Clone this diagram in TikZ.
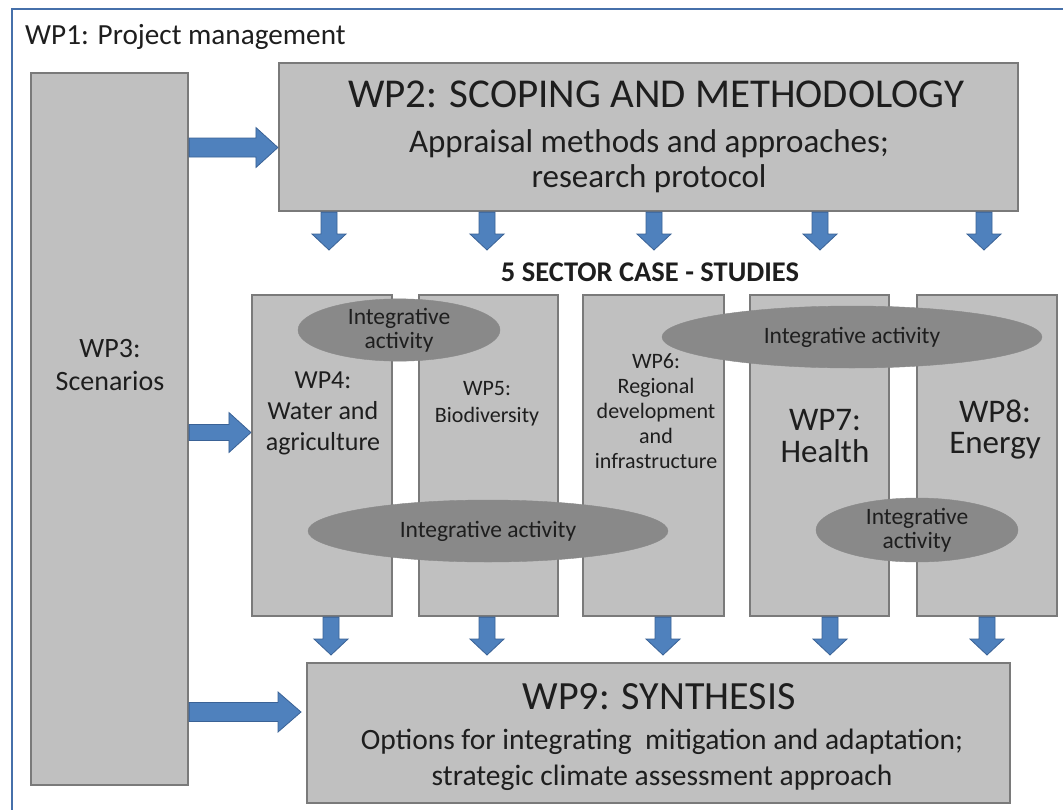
\documentclass[tikz,border=0pt]{standalone}
\usepackage{fontspec}
\setmainfont{Carlito}
\usetikzlibrary{shapes.geometric,calc}
\definecolor{boxgray}{RGB}{192,192,192}
\definecolor{boxedge}{RGB}{122,122,122}
\definecolor{ellgray}{RGB}{137,137,137}
\definecolor{txt}{RGB}{30,30,30}
\definecolor{arrfill}{RGB}{79,129,189}
\definecolor{arredge}{RGB}{58,98,150}
\definecolor{frameblue}{RGB}{70,112,170}
\newcommand\fsz[2]{\fontsize{#1}{#2}\selectfont}
\newcommand\rtarrow[5]{%
  \draw[blockarrow] let \p1=(#1), \p2=(#2) in
    (\x1,\y1+#3pt) -- (\x2-#5pt,\y1+#3pt) -- (\x2-#5pt,\y1+#4pt) -- (\x2,\y1)
    -- (\x2-#5pt,\y1-#4pt) -- (\x2-#5pt,\y1-#3pt) -- (\x1,\y1-#3pt) -- cycle;}
\newcommand\dnarrow[2]{%
  \draw[blockarrow] let \p1=(#1), \p2=(#2) in
    (\x1-8pt,\y1) -- (\x1-8pt,\y2+16pt) -- (\x1-17pt,\y2+16pt) -- (\x1,\y2)
    -- (\x1+17pt,\y2+16pt) -- (\x1+8pt,\y2+16pt) -- (\x1+8pt,\y1) -- cycle;}
\begin{document}
\begin{tikzpicture}[x=1pt,y=-1pt,
  box/.style 2 args={draw=boxedge,fill=boxgray,line width=2.2pt,inner sep=0pt,
    minimum width=#1pt,minimum height=#2pt},
  ell/.style={ellipse,fill=ellgray,draw=ellgray,text=txt,inner sep=0pt,align=center,
    font=\fsz{23.5}{24}},
  txtn/.style={text=txt,inner sep=0pt,anchor=base,align=center},
  blockarrow/.style={fill=arrfill,draw=arredge,line width=0.8pt,line join=miter}]
\useasboundingbox (0,0) rectangle (1063,809);
\clip (0,0) rectangle (1063,809);
\fill[white] (0,0) rectangle (1063,809);
% WP1 frame
\draw[frameblue,line width=2.5pt] (12,9) rectangle (1090,840);
\node[txtn,anchor=base west,font=\fsz{29.2}{34}] (wp1t) at (25,44) {WP1: Project management};
% boxes
\node[box={157}{712}] (wp3) at (109.5,429) {};
\node[box={739}{148}] (wp2) at (648.5,137) {};
\node[box={140}{321}] (wp4) at (322,455.5) {};
\node[box={139}{321}] (wp5) at (488.5,455.5) {};
\node[box={141}{321}] (wp6) at (653.5,455.5) {};
\node[box={139}{321}] (wp7) at (819.5,455.5) {};
\node[box={140}{321}] (wp8) at (987,455.5) {};
\node[box={703}{140}] (wp9) at (658.5,733) {};
% arrow tips
\coordinate (t1) at (329,250);
\coordinate (t2) at (487,250);
\coordinate (t3) at (654,250);
\coordinate (t4) at (820,250);
\coordinate (t5) at (984,250);
\coordinate (b1) at (331,655);
\coordinate (b2) at (487,655);
\coordinate (b3) at (663,655);
\coordinate (b4) at (830,655);
\coordinate (b5) at (987,655);
\coordinate (w9tip) at (301,712);
% arrows
\rtarrow{wp3.east |- 0,147.5}{wp2.west |- 0,147.5}{9.5}{20}{22}
\rtarrow{wp3.east |- 0,432.5}{wp4.west |- 0,432.5}{8}{20}{22}
\rtarrow{wp3.east |- w9tip}{w9tip}{9.5}{20}{23}
\dnarrow{wp2.south -| t1}{t1}
\dnarrow{wp2.south -| t2}{t2}
\dnarrow{wp2.south -| t3}{t3}
\dnarrow{wp2.south -| t4}{t4}
\dnarrow{wp2.south -| t5}{t5}
\dnarrow{wp4.south -| b1}{b1}
\dnarrow{wp5.south -| b2}{b2}
\dnarrow{wp6.south -| b3}{b3}
\dnarrow{wp7.south -| b4}{b4}
\dnarrow{wp8.south -| b5}{b5}
% ellipses
\node[ell,minimum width=202pt,minimum height=60pt] (e1) at (399,330) {Integrative\\activity};
\node[ell,minimum width=380pt,minimum height=62pt] (e2) at (852,337) {Integrative activity};
\node[ell,minimum width=360pt,minimum height=62pt] (e3) at (488,531) {Integrative activity};
\node[ell,minimum width=202pt,minimum height=64pt] (e4) at (917,530) {Integrative\\activity};
% texts (base = baseline of last line)
\node[txtn,font=\fsz{41}{48}] (wp2a) at (656,107) {WP2: SCOPING AND METHODOLOGY};
\node[txtn,font=\fsz{33}{35}] (wp2b) at (649,187) {Appraisal methods and approaches;\\research protocol};
\node[txtn,font=\bfseries\fsz{28.5}{34}] (sec) at (650,281) {5 SECTOR CASE - STUDIES};
\node[txtn,font=\fsz{28}{33}] (wp3t) at (110,390) {WP3:\\Scenarios};
\node[txtn,font=\fsz{26}{31}] (wp4t) at (323,450) {WP4:\\Water and\\agriculture};
\node[txtn,font=\fsz{22}{27}] (wp5t) at (487,422) {WP5:\\Biodiversity};
\node[txtn,font=\fsz{22}{25}] (wp6t) at (656,468) {WP6:\\Regional\\development\\and\\infrastructure};
\node[txtn,font=\fsz{33}{32}] (wp7t) at (825,462) {WP7:\\Health};
\node[txtn,font=\fsz{33}{31}] (wp8t) at (995,453) {WP8:\\Energy};
\node[txtn,font=\fsz{40}{48}] (wp9a) at (659,709) {WP9: SYNTHESIS};
\node[txtn,font=\fsz{29.5}{36}] (wp9b) at (662,785) {Options for integrating~ mitigation and adaptation;\\strategic climate assessment approach};
\end{tikzpicture}
\end{document}
